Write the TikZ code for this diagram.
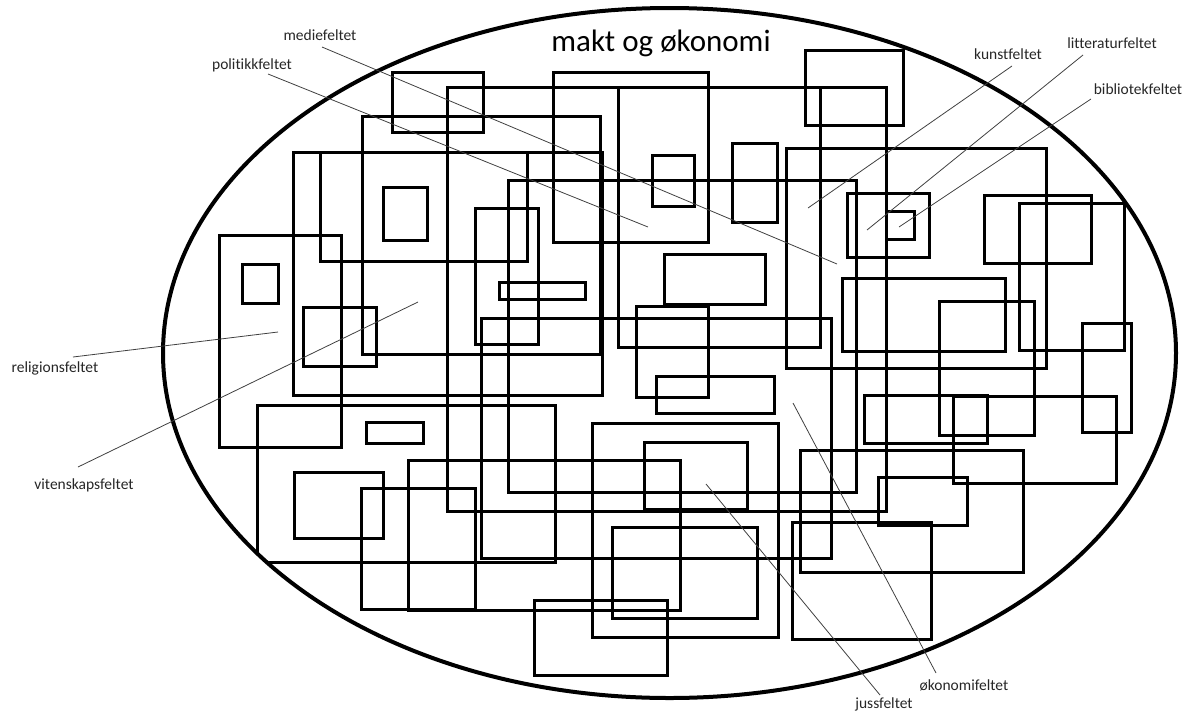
\documentclass[tikz,border=0pt]{standalone}
\usepackage{fontspec}
\setmainfont{Carlito}[Ligatures={NoCommon}]
\begin{document}
\begin{tikzpicture}[x=1pt,y=-1pt,
    box/.style={line width=3pt},
    leader/.style={black!75,line width=0.8pt},
    field/.style={anchor=base,inner sep=0pt,text=black!85,font=\fontsize{15.5}{18}\selectfont}]
    \useasboundingbox (0,0) rectangle (1189,713);

    % the fields as rectangles, x1/y1/x2/y2, kept inside the ellipse
    \begin{scope}
        \clip (669.5,353) ellipse [x radius=506.5pt, y radius=345pt];
        \foreach \xa/\ya/\xb/\yb in {392/72/483/132, 447/87/886/511, 553/72/708/242,
            618/87/820/347, 805/50/903/125, 362/116/600/354, 293/152/602/395,
            320/152/527/261, 383/187/427/240, 219/235/341/447, 242/264/278/303,
            303/307/376/366, 475/208/538/344, 508/180/856/492, 499/282/585/299,
            481/318/831/558, 257/405/555/562, 366/422/423/443, 294/472/383/538,
            361/488/475/609, 408/460/680/610, 592/423/778/637, 644/442/747/509,
            612/527/757/618, 534/600/667/675, 636/306/708/397, 656/376/774/413,
            664/254/765/304, 652/155/694/206, 732/143/777/222, 786/148/1046/368,
            847/193/929/257, 886/211/914/239, 984/195/1091/263, 1019/203/1124/350,
            842/278/1005/351, 939/301/1034/435, 1082/323/1131/432, 864/395/987/443,
            953/396/1116/483, 800/450/1023/572, 878/477/967/525, 792/522/931/639}
        {
            \draw[box] (\xa,\ya) rectangle (\xb,\yb);
        }
    \end{scope}
    \draw[line width=4pt] (669.5,353) ellipse [x radius=506.5pt, y radius=345pt];

    \node[anchor=base,inner sep=0pt,font=\fontsize{31}{36}\selectfont] (makt) at (661,51) {makt og økonomi};

    % labels
    \node[field] (medie) at (320,40) {mediefeltet};
    \node[field] (politikk) at (252,69) {politikkfeltet};
    \node[field] (kunst) at (1008,59) {kunstfeltet};
    \node[field] (litteratur) at (1112,48) {litteraturfeltet};
    \node[field] (bibliotek) at (1138,94) {bibliotekfeltet};
    \node[field] (religion) at (55,372) {religionsfeltet};
    \node[field] (vitenskap) at (84,489) {vitenskapsfeltet};
    \node[field] (juss) at (884,708) {jussfeltet};
    \node[field] (okonomi) at (964,690) {økonomifeltet};

    % ends of the pointer lines
    \coordinate (medie a) at (322,47);       \coordinate (medie b) at (837,264);
    \coordinate (politikk a) at (268,74);    \coordinate (politikk b) at (648,227);
    \coordinate (kunst a) at (1012,66);      \coordinate (kunst b) at (808,208);
    \coordinate (litteratur a) at (1083,55); \coordinate (litteratur b) at (867,230);
    \coordinate (bibliotek a) at (1091,99);  \coordinate (bibliotek b) at (899,227);
    \coordinate (religion a) at (73,357);    \coordinate (religion b) at (278,332);
    \coordinate (vitenskap a) at (78,467);   \coordinate (vitenskap b) at (418,302);
    \coordinate (juss a) at (880,695);       \coordinate (juss b) at (706,484);
    \coordinate (okonomi a) at (936,673);    \coordinate (okonomi b) at (793,403);

    \foreach \f in {medie, politikk, kunst, litteratur, bibliotek, religion, vitenskap, juss, okonomi}
    {
        \draw[leader] (\f\space a) -- (\f\space b);
    }
\end{tikzpicture}
\end{document}
